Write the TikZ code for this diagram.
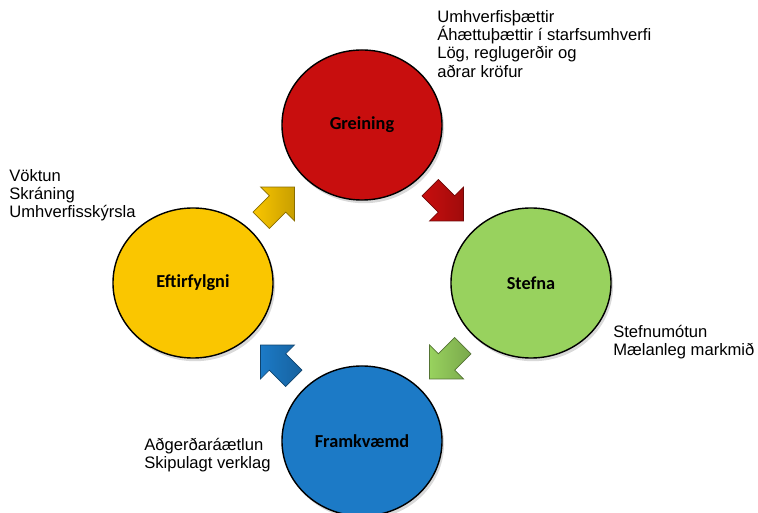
\documentclass[tikz,border=0pt]{standalone}
\usepackage{fontspec}
\setmainfont{Liberation Sans}
\newfontfamily\calib{Carlito}
\usetikzlibrary{shapes.geometric,shadows,calc}

\definecolor{gred}{RGB}{200,14,14}
\definecolor{sgreen}{RGB}{152,210,94}
\definecolor{fblue}{RGB}{28,122,198}
\definecolor{eyellow}{RGB}{250,198,0}
\colorlet{rimin}{white}
\colorlet{rimout}{black}
\pgfdeclareradialshading[rimin,rimout]{rim}{\pgfpoint{0bp}{0bp}}{color(0bp)=(rimin); color(38bp)=(rimin); color(50bp)=(rimout)}

\tikzset{
  phase/.style={ellipse, draw=black, line width=1pt, minimum width=4cm, minimum height=3.75cm,
    inner sep=0pt, font=\calib\bfseries\fontsize{13}{15}\selectfont,
    /utils/exec={\colorlet{rimin}{#1}\colorlet{rimout}{#1!70!black}}, shade, shading=rim,
    drop shadow={opacity=0.3, shadow xshift=0.5mm, shadow yshift=-0.8mm}},
  note/.style={anchor=north west, inner sep=0pt, align=left, font=\fontsize{11.8}{13}\selectfont},
  pics/blockarrow/.style={code={%
    \draw[left color=#1, right color=#1!80!black, draw=#1!55!black, line width=0.5pt] (-23,-11.5) -- (0,-11.5) -- (0,-24) -- (24,0) -- (0,24) -- (0,11.5) -- (-23,11.5) -- cycle;}}
}

\begin{document}
\begin{tikzpicture}[x=0.025cm, y=0.025cm]
\useasboundingbox (0,0) rectangle (758,513);
% the four phases
\node[phase=gred] (gre) at (362,388) {Greining};
\node[phase=sgreen] (ste) at (531,230) {Stefna};
\node[phase=fblue] (fra) at (362,72) {Framkvæmd};
\node[phase=eyellow] (eft) at (193,230) {Eftirfylgni};
% arrows between them
\pic[rotate=-45] at ($(gre)!0.5!(ste)$) {blockarrow=gred};
\pic[rotate=-135] at ($(ste)!0.5!(fra)$) {blockarrow=sgreen};
\pic[rotate=135] at ($(fra)!0.5!(eft)$) {blockarrow=fblue};
\pic[rotate=45] at ($(eft)!0.5!(gre)$) {blockarrow=eyellow};
% notes
\node[note] (txtgre) at (437,503) {Umhverfisþættir\\Áhættuþættir í starfsumhverfi\\Lög, reglugerðir og\\aðrar kröfur};
\node[note] (txtste) at (613,188) {Stefnumótun\\Mælanleg markmið};
\node[note] (txtfra) at (144,75) {Aðgerðaráætlun\\Skipulagt verklag};
\node[note] (txteft) at (9,344) {Vöktun\\Skráning\\Umhverfisskýrsla};
\end{tikzpicture}
\end{document}
